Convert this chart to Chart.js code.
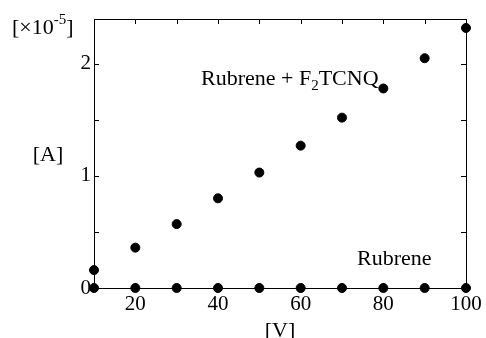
<!DOCTYPE html>
<html>
<head>
<meta charset="utf-8">
<script src="https://cdn.jsdelivr.net/npm/chart.js@4/dist/chart.umd.min.js"></script>
<style>
  body { margin: 0; background: #fff; }
  #wrap { width: 486px; height: 338px; }
</style>
</head>
<body>
<div id="wrap"><canvas id="myChart" width="486" height="338"></canvas></div>
<script>
// voltage [V] and current [x1e-5 A]
var voltage = [10, 20, 30, 40, 50, 60, 70, 80, 90, 100];
var dopedCurrent = [0.16, 0.36, 0.57, 0.80, 1.03, 1.27, 1.52, 1.78, 2.05, 2.32];
var pureCurrent = [0, 0, 0, 0, 0, 0, 0, 0, 0, 0];
var xTickLabels = [20, 40, 60, 80, 100];
var yTickLabels = [0, 1, 2];

var serif = '"Liberation Serif", "Times New Roman", serif';

function toPoints(xs, ys) {
    return xs.map(function(x, i) { return { x: x, y: ys[i] }; });
}

// frame, inward ticks and the text labels
var framePlugin = {
    id: 'frame',
    afterDraw: function(chart) {
        var c = chart.ctx, a = chart.chartArea;
        var xs = chart.scales.x, ys = chart.scales.y;
        c.save();
        c.strokeStyle = '#000';
        c.lineWidth = 1;
        c.strokeRect(Math.round(a.left) + 0.5, Math.round(a.top) + 0.5,
            Math.round(a.right - a.left), Math.round(a.bottom - a.top));
        c.beginPath();
        xs.ticks.forEach(function(t) {
            var px = Math.round(xs.getPixelForValue(t.value)) + 0.5;
            c.moveTo(px, a.bottom); c.lineTo(px, a.bottom - 5);
            c.moveTo(px, a.top); c.lineTo(px, a.top + 5);
        });
        ys.ticks.forEach(function(t) {
            var py = Math.round(ys.getPixelForValue(t.value)) + 0.5;
            c.moveTo(a.left, py); c.lineTo(a.left + 5, py);
            c.moveTo(a.right, py); c.lineTo(a.right - 5, py);
        });
        c.stroke();

        c.fillStyle = '#000';
        c.textBaseline = 'alphabetic';
        c.textAlign = 'left';
        // [x10^-5]
        c.font = '22px ' + serif;
        var x = 12, y = 34;
        c.fillText('[\u00d710', x, y);
        x += c.measureText('[\u00d710').width;
        c.font = '15px ' + serif;
        c.fillText('-5', x, y - 10);
        x += c.measureText('-5').width;
        c.font = '22px ' + serif;
        c.fillText(']', x, y);
        // [A]
        c.textAlign = 'center';
        c.fillText('[A]', 48, 161);
        // [V]
        c.fillText('[V]', (a.left + a.right) / 2, 337);
        // series labels
        c.textAlign = 'left';
        x = 201; y = 85;
        c.fillText('Rubrene + F', x, y);
        x += c.measureText('Rubrene + F').width;
        c.font = '15px ' + serif;
        c.fillText('2', x, y + 5);
        x += c.measureText('2').width;
        c.font = '22px ' + serif;
        c.fillText('TCNQ', x, y);
        c.fillText('Rubrene', 357, 265);
        c.restore();
    }
};

new Chart(document.getElementById('myChart'), {
    type: 'scatter',
    data: {
        datasets: [{
            label: 'Rubrene + F2TCNQ',
            data: toPoints(voltage, dopedCurrent),
            backgroundColor: '#000',
            borderColor: '#000',
            pointRadius: 4.5,
            clip: false
        }, {
            label: 'Rubrene',
            data: toPoints(voltage, pureCurrent),
            backgroundColor: '#000',
            borderColor: '#000',
            pointRadius: 4.5,
            clip: false
        }]
    },
    options: {
        responsive: false,
        animation: false,
        layout: { padding: { top: 19, right: 20, left: 0, bottom: 0 } },
        plugins: { legend: { display: false }, tooltip: { enabled: false } },
        scales: {
            x: {
                type: 'linear',
                min: 10,
                max: 100,
                grid: { display: false, drawTicks: false },
                border: { display: false },
                ticks: {
                    stepSize: 10,
                    padding: 4,
                    color: '#000',
                    font: { family: serif, size: 21 },
                    maxRotation: 0,
                    autoSkip: false,
                    callback: function(v) { return xTickLabels.indexOf(v) >= 0 ? String(v) : ''; }
                },
                afterFit: function(s) { s.height = 50; }
            },
            y: {
                min: 0,
                max: 2.4,
                grid: { display: false, drawTicks: false },
                border: { display: false },
                ticks: {
                    stepSize: 0.5,
                    padding: 3,
                    color: '#000',
                    font: { family: serif, size: 21 },
                    autoSkip: false,
                    callback: function(v) { return yTickLabels.indexOf(v) >= 0 ? String(v) : ''; }
                },
                afterFit: function(s) { s.width = 94; }
            }
        }
    },
    plugins: [framePlugin]
});
</script>
</body>
</html>
